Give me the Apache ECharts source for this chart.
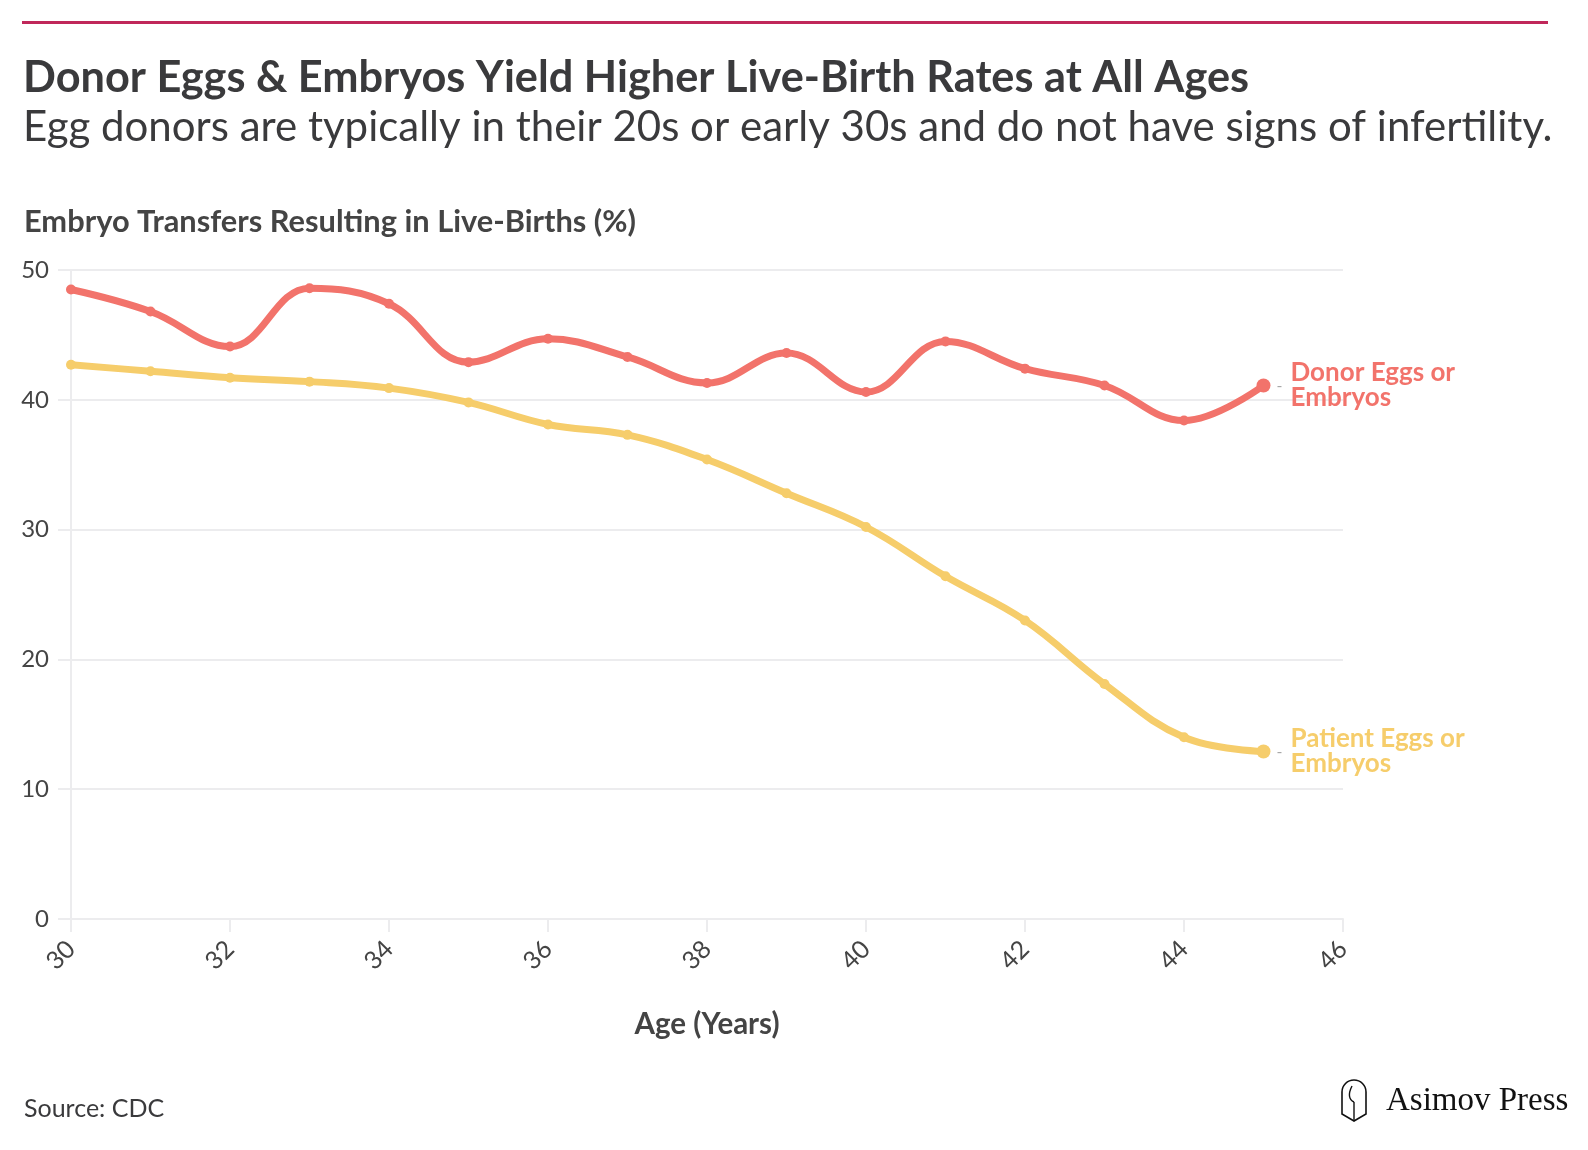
<!DOCTYPE html>
<html>
<head>
<meta charset="utf-8">
<title>Donor Eggs & Embryos</title>
<script src="https://cdn.jsdelivr.net/npm/echarts@6/dist/echarts.min.js"></script>
<style>
  html, body { margin: 0; padding: 0; background: #fff; }
  #chart { width: 1588px; height: 1150px; }
</style>
</head>
<body>
<div id="chart"></div>
<script>
// data
var ages = [30, 31, 32, 33, 34, 35, 36, 37, 38, 39, 40, 41, 42, 43, 44, 45];
var donorRates = [48.5, 46.8, 44.1, 48.6, 47.4, 42.9, 44.7, 43.3, 41.3, 43.6, 40.6, 44.5, 42.4, 41.1, 38.4, 41.1];
var patientRates = [42.7, 42.2, 41.7, 41.4, 40.9, 39.8, 38.1, 37.3, 35.4, 32.8, 30.2, 26.4, 23.0, 18.1, 14.0, 12.9];
var seriesLabels = ['Donor Eggs or\nEmbryos', 'Patient Eggs or\nEmbryos'];
var xRange = [30, 46, 2];   // min, max, step
var yRange = [0, 50, 10];

var FONT = 'Lato';
var DONOR = '#f2736b';
var PATIENT = '#f6cd6b';
var GRID = '#ececee';
var TEXT = '#3a3a3c';

var chart = echarts.init(document.getElementById('chart'), null, { renderer: 'canvas' });

function pairs(vals) {
    return vals.map(function (v, i) { return [ages[i], v]; });
}

function makeSeries(name, vals, color) {
    var last = vals.length - 1;
    return {
        name: name,
        type: 'line',
        smooth: 0.4,
        data: pairs(vals),
        symbol: 'circle',
        symbolSize: function (v, p) { return p.dataIndex === last ? 14 : 10; },
        itemStyle: { color: color },
        lineStyle: { color: color, width: 7 },
        // small grey dash next to the last point
        label: {
            show: true,
            position: 'right',
            distance: 6,
            color: '#a8a8a8',
            fontFamily: FONT,
            fontSize: 16,
            formatter: function (p) { return p.dataIndex === last ? '-' : ''; }
        },
        endLabel: {
            show: true,
            distance: 27,
            formatter: function () { return name; },
            color: color,
            fontFamily: FONT,
            fontWeight: 'bold',
            fontSize: 26,
            lineHeight: 25,
            align: 'left',
            verticalAlign: 'middle'
        },
        emphasis: { disabled: true },
        z: 3
    };
}

var option = {
    backgroundColor: '#fff',
    animation: false,
    textStyle: { fontFamily: FONT },
    title: [
        {
            text: 'Donor Eggs & Embryos Yield Higher Live-Birth Rates at All Ages',
            left: 18, top: 52,
            textStyle: { fontFamily: FONT, fontWeight: 'bold', fontSize: 43.3, color: TEXT }
        },
        {
            text: 'Egg donors are typically in their 20s or early 30s and do not have signs of infertility.',
            left: 18, top: 101,
            textStyle: { fontFamily: FONT, fontWeight: 'normal', fontSize: 42, color: TEXT }
        },
        {
            text: 'Embryo Transfers Resulting in Live-Births (%)',
            left: 19, top: 202,
            textStyle: { fontFamily: FONT, fontWeight: 'bold', fontSize: 30.8, color: '#444' }
        },
        {
            text: 'Source: CDC',
            left: 19, top: 1091,
            textStyle: { fontFamily: FONT, fontWeight: 'normal', fontSize: 25, color: TEXT }
        }
    ],
    grid: { left: 71, right: 245, top: 270, bottom: 231, containLabel: false },
    xAxis: {
        type: 'value',
        min: xRange[0], max: xRange[1], interval: xRange[2],
        name: 'Age (Years)',
        nameLocation: 'middle',
        nameGap: 90,
        nameTextStyle: { fontFamily: FONT, fontWeight: 'bold', fontSize: 29.5, color: '#444' },
        axisLine: { show: true, lineStyle: { color: GRID, width: 2 } },
        axisTick: { show: true, length: 13, lineStyle: { color: GRID, width: 2 } },
        axisLabel: { rotate: 45, margin: 26, fontSize: 25, color: '#444', fontFamily: FONT },
        splitLine: { show: false }
    },
    yAxis: {
        type: 'value',
        min: yRange[0], max: yRange[1], interval: yRange[2],
        axisLine: { show: true, lineStyle: { color: GRID, width: 2 } },
        axisTick: { show: true, length: 13, lineStyle: { color: GRID, width: 2 } },
        axisLabel: { margin: 22, fontSize: 24, color: '#444', fontFamily: FONT },
        splitLine: { show: true, lineStyle: { color: GRID, width: 2 } }
    },
    graphic: [
        // top rule
        { type: 'rect', shape: { x: 22, y: 21, width: 1526, height: 3 }, style: { fill: '#c0285a' }, silent: true },
        // Asimov Press mark: arch with an inner stroke
        {
            type: 'group', x: 1341, y: 1080, silent: true,
            children: [
                { type: 'arc', shape: { cx: 13, cy: 12, r: 12, startAngle: Math.PI, endAngle: 2 * Math.PI }, style: { stroke: '#111', lineWidth: 1.6, fill: null } },
                { type: 'polyline', shape: { points: [[1, 12], [1, 34], [13, 41], [25, 34], [25, 12]] }, style: { stroke: '#111', lineWidth: 1.6, fill: null } },
                { type: 'bezierCurve', shape: { x1: 13, y1: 41, cpx1: 13, cpy1: 30, x2: 13, y2: 22 }, style: { stroke: '#111', lineWidth: 1.4, fill: null } },
                { type: 'bezierCurve', shape: { x1: 13, y1: 22, cpx1: 5, cpy1: 18, x2: 11, y2: 6 }, style: { stroke: '#111', lineWidth: 1.4, fill: null } }
            ]
        },
        {
            type: 'text', x: 1386, y: 1085, silent: true,
            style: { text: 'Asimov Press', font: '33px "Liberation Serif"', fill: '#111' }
        }
    ],
    series: [
        makeSeries(seriesLabels[1], patientRates, PATIENT),
        makeSeries(seriesLabels[0], donorRates, DONOR)
    ]
};

chart.setOption(option);
</script>
</body>
</html>
